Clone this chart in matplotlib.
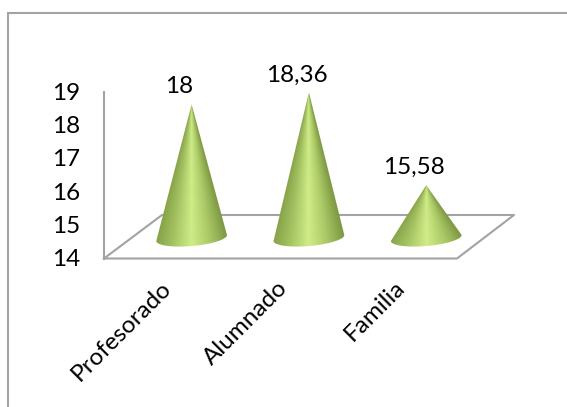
import numpy as np
import matplotlib
matplotlib.use("Agg")
import matplotlib.pyplot as plt
from matplotlib.patches import Polygon
from matplotlib.colors import LinearSegmentedColormap

categories = ["Profesorado", "Alumnado", "Familia"]
values = [18, 18.36, 15.58]
value_labels = ["18", "18,36", "15,58"]
y_ticks = [14, 15, 16, 17, 18, 19]

plt.rcParams["font.family"] = ["Lato", "DejaVu Sans"]

W, H = 567, 407
GRAY = "#a3a3a3"
PX = 33.4        # pixels per unit
Y_FRONT = 258.5  # y of value 14 on the front plane
Y_BACK = 238     # y of value 14 at the cone centres
X_AXIS = 104
FS = 17.5


def front_y(v):
    return Y_FRONT - (v - y_ticks[0]) * PX


def cone_y(v):
    return Y_BACK - (v - y_ticks[0]) * PX


shade = LinearSegmentedColormap.from_list(
    "cone", ["#84a147", "#a5c362", "#cfec88", "#abc966", "#7f9a44"]
)

fig = plt.figure(figsize=(W / 100, H / 100), dpi=100)
ax = fig.add_axes([0, 0, 1, 1])
ax.set_xlim(0, W)
ax.set_ylim(H, 0)
ax.axis("off")

# outer frame, only top and left show
ax.plot([8, 8, W], [H, 13, 13], color=GRAY, lw=1.5, solid_joinstyle="miter")

# floor and value axis
floor_x = [X_AXIS, 162, 514, 457, X_AXIS]
floor_y = [Y_FRONT, 215, 215, Y_FRONT, Y_FRONT]
ax.plot(floor_x, floor_y, color=GRAY, lw=1.5)
ax.plot([X_AXIS, X_AXIS], [front_y(y_ticks[-1]), Y_FRONT], color=GRAY, lw=1.5)

for t in y_ticks:
    ax.text(80, front_y(t) + 1.5, str(t), ha="right", va="center", fontsize=FS, color="black")

half_w, half_h = 35.5, 8
tilt = np.deg2rad(-5)

for i, (name, v, lab) in enumerate(zip(categories, values, value_labels)):
    cx = 191.6 + 117.3 * i
    apex = cone_y(v)

    # lower arc of the tilted base, then up to the tip
    t = np.linspace(0, np.pi, 60)
    ex = half_w * np.cos(t)
    ey = half_h * np.sin(t)
    bx = cx + ex * np.cos(tilt) - ey * np.sin(tilt)
    by = Y_BACK + ex * np.sin(tilt) + ey * np.cos(tilt)
    outline = np.column_stack([np.r_[bx, cx], np.r_[by, apex]])

    # shading follows the cone surface
    x0, x1 = cx - half_w - 2, cx + half_w + 2
    y0, y1 = apex - 1, Y_BACK + 12
    gx, gy = np.meshgrid(np.linspace(x0, x1, 200), np.linspace(y0, y1, 300))
    frac = np.clip((gy - apex) / (Y_BACK - apex), 0.02, None)
    u = np.clip((gx - cx) / (half_w * frac), -1, 1)
    img = ax.imshow((u + 1) / 2, extent=[x0, x1, y1, y0], cmap=shade, vmin=0, vmax=1,
                    aspect="auto", zorder=3, interpolation="bilinear")
    patch = Polygon(outline, closed=True, transform=ax.transData, fc="none", ec="none")
    ax.add_patch(patch)
    img.set_clip_path(patch)

    ax.text(cx - 12, apex - 17.5, lab, ha="center", va="center", fontsize=FS,
            color="black", zorder=4)
    ax.text(160 + 117 * i, 277, name, ha="right", va="top", rotation=45,
            rotation_mode="anchor", fontsize=FS, color="black")

ax.set_xlim(0, W)
ax.set_ylim(H, 0)
fig.savefig("out.png", dpi=100)
plt.close(fig)
